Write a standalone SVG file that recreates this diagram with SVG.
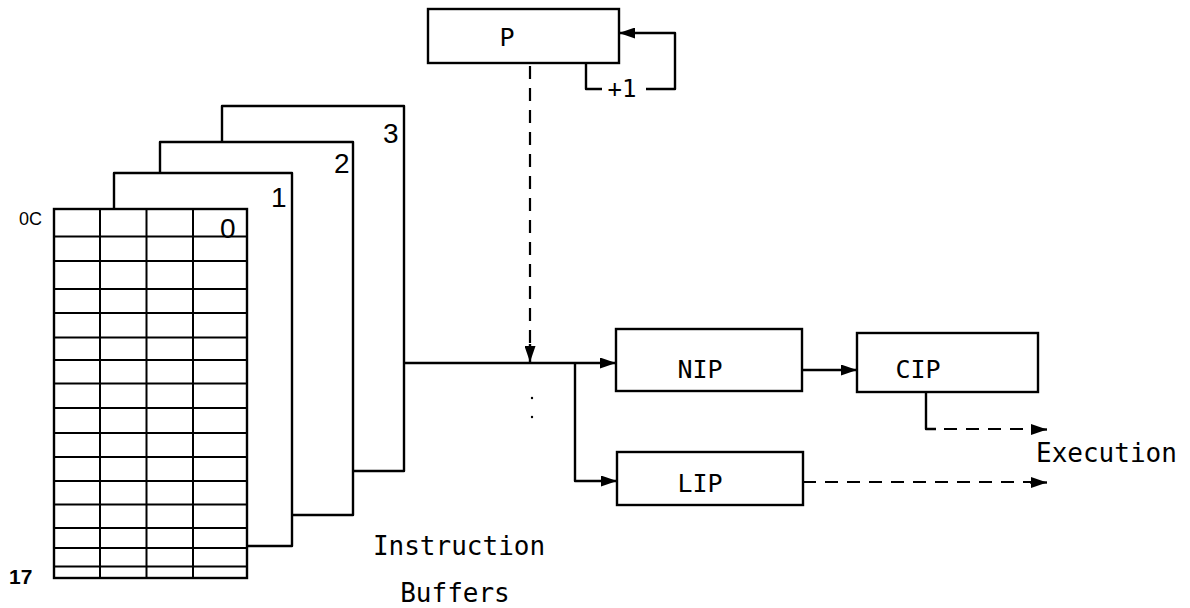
<svg xmlns="http://www.w3.org/2000/svg" width="1190" height="608" viewBox="0 0 1190 608">
<style>
.ln{fill:none;stroke:#000;stroke-width:2.4;stroke-linejoin:round}
.thin{fill:none;stroke:#000;stroke-width:2}
.box{fill:#fff;stroke:#000;stroke-width:2.4}
.dash{fill:none;stroke:#000;stroke-width:2.2;stroke-dasharray:13 9}
.t{font-family:"DejaVu Sans Mono","Liberation Mono",monospace;fill:#000}
.d{font-family:"Liberation Sans","DejaVu Sans",sans-serif;fill:#000}
</style>
<defs>
<marker id="ah" viewBox="0 0 16 11" refX="16" refY="5.5" markerWidth="16" markerHeight="11" markerUnits="userSpaceOnUse" orient="auto">
<path d="M0,0 L16,5.5 L0,11 Z" fill="#000"/>
</marker>
</defs>
<rect x="0" y="0" width="1190" height="608" fill="#fff"/>

<g id="buffer3">
<path class="ln" d="M222,142 V106 H404 V471 H353"/>
<text class="d" x="383" y="143" font-size="28">3</text>
</g>
<g id="buffer2">
<path class="ln" d="M160,173 V142 H353 V515 H293"/>
<text class="d" x="334" y="173" font-size="28">2</text>
</g>
<g id="buffer1">
<path class="ln" d="M114,209 V173 H292 V546 H247"/>
<text class="d" x="271" y="207" font-size="28">1</text>
</g>
<g id="buffer0">
<rect class="box" x="54" y="209" width="193" height="369"/>
<path class="thin" d="M100,209V578 M146.5,209V578 M193,209V578 M54,236.5H247 M54,261H247 M54,289H247 M54,313H247 M54,337.5H247 M54,360H247 M54,383.5H247 M54,408H247 M54,433H247 M54,457H247 M54,481H247 M54,504.5H247 M54,528H247 M54,548H247 M54,566.5H247"/>
<text class="d" x="220" y="238" font-size="28">0</text>
<text class="d" x="19" y="225" font-size="18">0C</text>
<text class="d" x="9" y="584" font-size="21" font-weight="bold">17</text>
</g>
<g id="label-buffers">
<text class="t" x="459" y="555" font-size="26" text-anchor="middle">Instruction</text>
<text class="t" x="455" y="602" font-size="26" text-anchor="middle">Buffers</text>
</g>

<g id="P">
<rect class="box" x="428" y="9" width="191" height="54"/>
<text class="t" x="507" y="46" font-size="25" text-anchor="middle">P</text>
<text class="t" x="622" y="97" font-size="24" text-anchor="middle">+1</text>
</g>
<g id="NIP">
<rect class="box" x="616" y="329" width="186" height="62"/>
<text class="t" x="700" y="378" font-size="25" text-anchor="middle">NIP</text>
</g>
<g id="CIP">
<rect class="box" x="857" y="333" width="181" height="59"/>
<text class="t" x="918" y="378" font-size="25" text-anchor="middle">CIP</text>
</g>
<g id="LIP">
<rect class="box" x="617" y="452" width="186" height="53"/>
<text class="t" x="700" y="492" font-size="25" text-anchor="middle">LIP</text>
</g>
<g id="label-execution">
<text class="t" x="1036" y="462" font-size="26">Execution</text>
</g>

<g id="connectors">
<path class="ln" d="M404,363 H616" marker-end="url(#ah)"/>
<path class="ln" d="M575,364 V481 H617" marker-end="url(#ah)"/>
<path class="ln" d="M802,370 H857" marker-end="url(#ah)"/>
<path class="dash" d="M530,66 V346"/>
<path class="ln" d="M530,344 V362" marker-end="url(#ah)"/>
<circle cx="532" cy="398" r="1.2" fill="#000"/>
<circle cx="532" cy="417" r="1.2" fill="#000"/>
<path class="ln" d="M586,63 V89 H602"/>
<path class="ln" d="M646,89 H675 V33 H619" marker-end="url(#ah)"/>
<path class="ln" d="M926,392 V429 H936"/>
<path class="dash" d="M944,429 H1033"/>
<path class="ln" d="M1031,429.5 H1047" marker-end="url(#ah)"/>
<path class="dash" d="M803,482 H1031"/>
<path class="ln" d="M1030,482.5 H1047" marker-end="url(#ah)"/>
</g>
</svg>
